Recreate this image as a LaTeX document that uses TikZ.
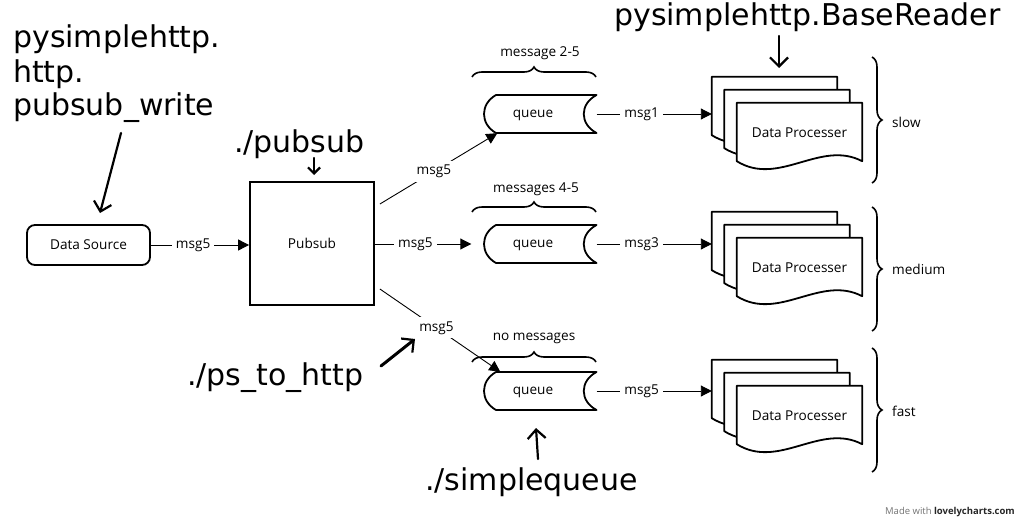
\documentclass[tikz,border=0pt]{standalone}
\usepackage{fontspec}
\setmainfont{Open Sans}
\newfontfamily\handfont{DejaVu Sans}
\usetikzlibrary{arrows.meta,decorations.pathreplacing,calc}
\newcommand\queueshape[1]{%
  \begin{scope}[shift={(#1.center)}]
    \draw[qst] (-44,-19) -- (56.5,-19) .. controls (39.5,-10) and (39.5,10) .. (56.5,19)
      -- (-44,19) .. controls (-60,10) and (-60,-10) .. cycle;
  \end{scope}}
\newcommand\sheetshape[1]{%
  \filldraw[qst, fill=white] (#1.south west) -- (#1.north west) -- (#1.north east) -- (#1.south east)
    .. controls ($(#1.south east)+(-42,-22)$) and ($(#1.south west)+(42,26)$) .. (#1.south west) -- cycle;}
\begin{document}
\begin{tikzpicture}[x=1pt,y=-1pt,
  lbl/.style={font=\fontsize{13.6}{16}\selectfont, inner sep=1pt},
  smalllbl/.style={font=\fontsize{13.6}{16}\selectfont, inner sep=1pt},
  boxst/.style={draw, line width=1.8pt, fill=white},
  qst/.style={line width=1.8pt, line join=round},
  ghost/.style={draw=none, inner sep=0pt, minimum width=125pt, minimum height=58pt},
  qnode/.style={draw=none, inner sep=0pt, minimum width=113pt, minimum height=38pt},
  conn/.style={line width=0.9pt, -{Triangle[length=11pt,width=11pt]}},
  edgelbl/.style={lbl, fill=white, inner sep=4pt},
  hand/.style={font=\handfont\fontsize{30}{34}\selectfont, inner sep=0pt, anchor=base west},
  handarrow/.style={line width=2.2pt, line cap=round, -{Straight Barb[length=9pt,width=18pt,line width=2.2pt]}},
  brc/.style={decorate, decoration={brace, amplitude=10pt}, line width=1.6pt},
]
\useasboundingbox (0,0) rectangle (1024,519);

% ---------- main nodes ----------
\node[boxst, rounded corners=8pt, minimum width=123pt, minimum height=40pt, lbl] (ds) at (88.5,245) {Data Source};
\node[boxst, minimum width=124pt, minimum height=123pt, lbl] (ps) at (312,243.5) {Pubsub};

% queues
\node[qnode] (q1) at (540,114) {};
\node[qnode] (q2) at (540,244) {};
\node[qnode] (q3) at (540,391) {};
\queueshape{q1}\queueshape{q2}\queueshape{q3}
\node[lbl] (q1t) at (533,115) {queue};
\node[lbl] (q2t) at (533,245) {queue};
\node[lbl] (q3t) at (533,392) {queue};

% queue braces
\draw[brc] (472,77) -- (596,77) coordinate[midway] (b1m);
\draw[brc] (472,212) -- (596,212) coordinate[midway] (b2m);
\draw[brc] (472,362) -- (596,362) coordinate[midway] (b3m);
\node[smalllbl] (b1l) at (540,53) {message 2-5};
\node[smalllbl] (b2l) at (536,189) {messages 4-5};
\node[smalllbl] (b3l) at (534,338) {no messages};

% data processer stacks
\foreach \r/\cy in {1/132, 2/267, 3/415}{
  \node[ghost] (dp\r c) at (799.5,\cy) {};
  \node[ghost] (dp\r b) at (787,\cy-13) {};
  \node[ghost] (dp\r a) at (774.5,\cy-26) {};
  \sheetshape{dp\r a}\sheetshape{dp\r b}\sheetshape{dp\r c}
  \node[lbl] (dp\r t) at (799.5,\cy+1) {Data Processer};
}

% right braces
\draw[brc] (872,57) -- (872,183);
\draw[brc] (872,207) -- (872,331);
\draw[brc] (872,348) -- (872,472);
\node[lbl, anchor=west] (sp1) at (891,122) {slow};
\node[lbl, anchor=west] (sp2) at (891,269) {medium};
\node[lbl, anchor=west] (sp3) at (891,411) {fast};

% ---------- connectors ----------
\draw[conn] (ds.east) -- node[edgelbl, pos=0.43] {msg5} (ps.west |- ds.east);
\coordinate (ps1) at ($(ps.east)+(5,-39.5)$);
\coordinate (ps3) at ($(ps.east)+(5,45.5)$);
\coordinate (q1in) at ($(q1.south west)+(14,0)$);
\coordinate (q2in) at ($(q2.west)+(-12,0)$);
\coordinate (q3in) at ($(q3.north west)+(17,0)$);
\draw[conn] (ps1) -- node[edgelbl, pos=0.46] {msg5} (q1in);
\draw[conn] (ps.east |- q2.west) -- node[edgelbl, pos=0.42] {msg5} (q2in);
\draw[conn] (ps3) -- node[edgelbl, pos=0.47] {msg5} (q3in);
\draw[conn] (q1.east) -- node[edgelbl, pos=0.39] {msg1} (q1.east -| dp1a.west);
\draw[conn] (q2.east) -- node[edgelbl, pos=0.39] {msg3} (q2.east -| dp2a.west);
\draw[conn] (q3.east) -- node[edgelbl, pos=0.39] {msg5} (q3.east -| dp3a.west);

% ---------- hand-written annotations ----------
\node[hand] (h1a) at (13,48) {pysimplehttp.};
\node[hand] (h1b) at (13,82) {http.};
\node[hand] (h1c) at (13,115) {pubsub\_write};
\node[hand] (h2) at (234,152) {./pubsub};
\node[hand] (h3) at (187,385) {./ps\_to\_http};
\node[hand] (h4) at (425,490) {./simplequeue};
\node[hand] (h5) at (614,26) {pysimplehttp.BaseReader};

\coordinate (a1s) at (121,133); \coordinate (a1e) at (100,213);
\coordinate (a2s) at (314,158); \coordinate (a2e) at (314,175);
\coordinate (a3s) at (381,366); \coordinate (a3e) at (415,339);
\coordinate (a4s) at (538,459); \coordinate (a4e) at (536,428);
\coordinate (a5s) at (779,36);  \coordinate (a5e) at (779,68);
\draw[handarrow] (a1s) -- (a1e);
\draw[handarrow, -{Straight Barb[length=6pt,width=12pt,line width=2.2pt]}] (a2s) -- (a2e);
\draw[handarrow, line width=3pt] (a3s) -- (a3e);
\draw[handarrow] (a4s) -- (a4e);
\draw[handarrow] (a5s) -- (a5e);

% watermark
\node[font=\fontsize{9.5}{11}\selectfont, anchor=east, text=black!55, inner sep=0pt] (wm) at (1015,512)
  {Made with \textcolor{black!85}{\bfseries lovelycharts.com}};
\end{tikzpicture}
\end{document}
